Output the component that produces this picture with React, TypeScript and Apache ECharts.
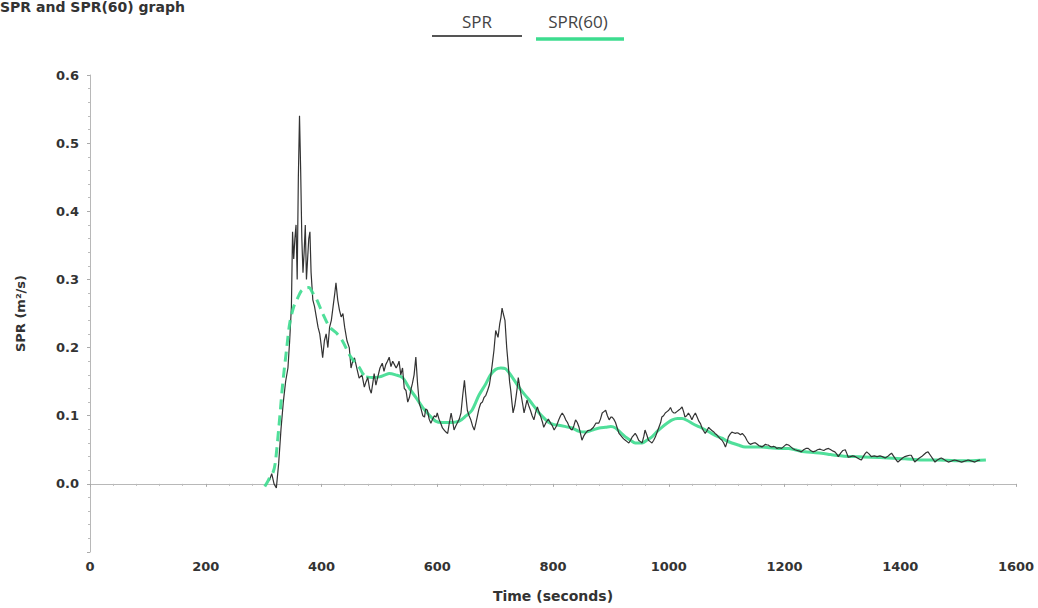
import React, { useEffect, useRef } from "react";
import * as echarts from "echarts";

// Time (s) / SPR (m²/s) pairs
const sprTime = [310,314,318,322,326,330,334,338,342,345,348,350,352,354,356,358,360,362,364,366,368,370,372,374,376,378,380,382,385,388,391,394,397,400,402,405,408,411,414,417,420,423,425,428,431,434,437,440,444,448,451,454,457,461,465,470,474,477,480,483,486,489,491,494,497,501,505,508,511,514,517,520,523,526,529,532,534,537,540,543,546,549,552,555,557,560,563,566,569,572,575,578,580,583,586,589,592,595,598,600,603,606,609,612,615,618,621,624,627,629,632,635,638,641,644,647,649,652,655,658,661,664,667,669,672,675,678,681,684,687,690,692,695,698,701,703,705,708,710,712,714,717,720,723,725,727,729,731,734,736,738,740,743,745,748,750,753,755,758,761,764,767,770,773,776,779,782,784,788,792,796,799,802,806,810,813,816,819,822,825,828,831,833,836,839,842,845,848,850,853,856,860,865,870,874,879,882,885,888,891,894,897,900,902,905,908,911,914,917,919,922,925,928,931,934,937,940,942,945,948,951,954,957,959,962,965,968,971,974,977,980,983,986,988,991,994,997,1000,1003,1006,1009,1011,1014,1017,1020,1023,1026,1028,1031,1034,1037,1040,1043,1046,1049,1052,1055,1057,1060,1063,1066,1069,1072,1075,1078,1080,1083,1086,1089,1092,1095,1098,1101,1103,1106,1109,1112,1115,1118,1121,1124,1127,1130,1132,1135,1138,1141,1144,1147,1150,1153,1156,1159,1161,1164,1167,1170,1172,1175,1178,1181,1184,1187,1190,1195,1199,1203,1207,1210,1214,1218,1222,1226,1229,1233,1237,1241,1245,1249,1253,1257,1261,1264,1268,1272,1276,1280,1284,1287,1290,1293,1297,1301,1305,1308,1310,1314,1318,1322,1326,1330,1333,1336,1339,1342,1346,1350,1355,1360,1365,1369,1374,1378,1382,1385,1389,1393,1396,1400,1404,1408,1412,1416,1419,1422,1425,1429,1433,1437,1441,1445,1448,1452,1456,1460,1464,1468,1471,1475,1479,1483,1487,1490,1494,1498,1502,1506,1510,1514,1517,1521,1525,1529,1533,1538];
const sprValue = [0.005,0.015,0.0,-0.006,0.03,0.08,0.12,0.15,0.17,0.21,0.26,0.37,0.33,0.36,0.38,0.30,0.45,0.54,0.46,0.36,0.31,0.34,0.38,0.30,0.33,0.36,0.37,0.31,0.27,0.26,0.245,0.23,0.22,0.2,0.185,0.21,0.22,0.2,0.23,0.24,0.26,0.28,0.295,0.27,0.255,0.245,0.25,0.23,0.21,0.2,0.17,0.18,0.185,0.17,0.155,0.16,0.142,0.15,0.156,0.14,0.133,0.15,0.162,0.145,0.156,0.17,0.177,0.165,0.175,0.18,0.186,0.172,0.18,0.175,0.17,0.175,0.18,0.16,0.17,0.14,0.137,0.12,0.127,0.14,0.147,0.16,0.186,0.147,0.118,0.11,0.1,0.098,0.11,0.108,0.095,0.089,0.095,0.1,0.098,0.104,0.095,0.089,0.082,0.079,0.076,0.074,0.09,0.104,0.09,0.079,0.085,0.09,0.095,0.104,0.13,0.152,0.133,0.108,0.1,0.094,0.085,0.079,0.09,0.098,0.11,0.118,0.12,0.127,0.13,0.137,0.145,0.156,0.175,0.196,0.225,0.22,0.215,0.235,0.244,0.258,0.25,0.24,0.2,0.171,0.15,0.137,0.12,0.104,0.115,0.127,0.14,0.156,0.14,0.13,0.115,0.104,0.115,0.123,0.115,0.108,0.1,0.094,0.105,0.113,0.105,0.098,0.09,0.083,0.09,0.095,0.089,0.085,0.079,0.085,0.094,0.1,0.104,0.1,0.094,0.09,0.084,0.08,0.079,0.085,0.094,0.09,0.083,0.072,0.064,0.07,0.074,0.078,0.079,0.083,0.089,0.089,0.095,0.104,0.106,0.108,0.1,0.094,0.098,0.098,0.095,0.09,0.082,0.074,0.071,0.069,0.066,0.064,0.062,0.06,0.064,0.069,0.072,0.074,0.07,0.064,0.062,0.06,0.07,0.079,0.072,0.064,0.062,0.06,0.064,0.069,0.076,0.083,0.09,0.098,0.1,0.104,0.106,0.108,0.112,0.106,0.104,0.104,0.106,0.108,0.11,0.113,0.105,0.098,0.1,0.104,0.1,0.094,0.1,0.104,0.098,0.092,0.088,0.083,0.078,0.074,0.078,0.083,0.08,0.078,0.076,0.074,0.072,0.069,0.066,0.064,0.06,0.054,0.062,0.069,0.073,0.076,0.075,0.074,0.075,0.074,0.072,0.074,0.071,0.069,0.064,0.06,0.058,0.059,0.06,0.06,0.058,0.056,0.055,0.054,0.056,0.058,0.057,0.057,0.055,0.054,0.055,0.054,0.052,0.053,0.052,0.055,0.058,0.057,0.055,0.052,0.05,0.049,0.048,0.047,0.05,0.052,0.052,0.049,0.047,0.048,0.05,0.051,0.05,0.049,0.051,0.052,0.05,0.048,0.047,0.044,0.04,0.045,0.049,0.05,0.044,0.039,0.04,0.041,0.04,0.038,0.036,0.035,0.04,0.044,0.047,0.044,0.04,0.041,0.04,0.041,0.04,0.038,0.04,0.043,0.045,0.04,0.035,0.032,0.035,0.038,0.04,0.041,0.042,0.042,0.037,0.032,0.035,0.038,0.04,0.043,0.046,0.047,0.042,0.037,0.032,0.035,0.037,0.038,0.036,0.034,0.032,0.033,0.034,0.035,0.034,0.033,0.032,0.033,0.034,0.035,0.034,0.033,0.032,0.034,0.035];

// SPR(60) smoothed curve: first (dashed) part and rest (solid)
const spr60TimeA = [302,308,312,316,320,326,333,340,345,352,359,365,372,378,385,392,402,414,425,436,448,458,466,471,477];
const spr60ValueA = [-0.004,0.005,0.012,0.016,0.03,0.08,0.147,0.2,0.235,0.26,0.273,0.283,0.287,0.288,0.28,0.27,0.25,0.23,0.222,0.21,0.19,0.178,0.17,0.162,0.157];
const spr60TimeB = [477,488,500,510,517,528,540,552,563,575,586,597,609,621,638,650,660,672,684,692,701,710,718,725,730,741,750,759,768,776,785,793,802,810,822,833,845,856,868,880,891,900,908,916,925,934,942,954,962,971,980,988,997,1006,1015,1023,1032,1040,1049,1057,1066,1074,1083,1092,1100,1109,1120,1132,1145,1161,1175,1190,1207,1218,1235,1250,1264,1280,1300,1322,1350,1379,1408,1437,1465,1494,1520,1548];
const spr60ValueB = [0.157,0.156,0.157,0.16,0.162,0.16,0.156,0.14,0.127,0.112,0.101,0.092,0.09,0.09,0.092,0.1,0.108,0.13,0.147,0.16,0.168,0.17,0.169,0.162,0.156,0.142,0.132,0.123,0.113,0.104,0.096,0.09,0.087,0.086,0.084,0.082,0.077,0.076,0.079,0.082,0.083,0.084,0.082,0.076,0.069,0.064,0.06,0.06,0.064,0.069,0.077,0.083,0.089,0.094,0.096,0.096,0.093,0.089,0.085,0.082,0.078,0.074,0.07,0.067,0.063,0.06,0.057,0.054,0.054,0.054,0.053,0.052,0.052,0.05,0.047,0.046,0.045,0.043,0.041,0.04,0.039,0.038,0.037,0.035,0.035,0.034,0.034,0.035];

const titleText = "SPR and SPR(60) graph";
const legendNames = ["SPR", "SPR(60)"];
const xAxisName = "Time (seconds)";
const yAxisName = "SPR (m²/s)";

const BLACK = "#333333";
const GREEN = "#3ddc8f";

const zip = (a: number[], b: number[]) => a.map((t, i) => [t, b[i]]);

export default function App() {
  const ref = useRef<HTMLDivElement>(null);
  useEffect(() => {
    if (!ref.current) return;
    const chart = echarts.init(ref.current, null, { renderer: "svg" });
    const boldFont = "DejaVu Sans";
    chart.setOption({
      animation: false,
      backgroundColor: "#ffffff",
      grid: { left: 90, right: 22, top: 75, bottom: 56 },
      xAxis: {
        type: "value",
        min: 0,
        max: 1600,
        interval: 200,
        name: xAxisName,
        nameLocation: "middle",
        nameGap: 37,
        nameTextStyle: { fontFamily: boldFont, fontWeight: "bold", fontSize: 14, color: "#333" },
        axisLine: { lineStyle: { color: "#b8b8b8", width: 1 } },
        axisTick: { show: true, length: 3, lineStyle: { color: "#aaa" } },
        minorTick: { show: true, splitNumber: 5, length: 2, lineStyle: { color: "#bbb" } },
        splitLine: { show: false },
        axisLabel: {
          fontFamily: boldFont,
          fontWeight: "bold",
          fontSize: 13,
          color: "#333",
          margin: 8,
          formatter: (v: number) => String(v),
        },
      },
      yAxis: {
        type: "value",
        min: -0.1,
        max: 0.6,
        interval: 0.1,
        name: yAxisName,
        nameLocation: "middle",
        nameGap: 63,
        nameTextStyle: { fontFamily: boldFont, fontWeight: "bold", fontSize: 13, color: "#333" },
        axisLine: { show: true, lineStyle: { color: "#b8b8b8", width: 1 } },
        axisTick: { show: true, length: 3, lineStyle: { color: "#aaa" } },
        minorTick: { show: true, splitNumber: 5, length: 2, lineStyle: { color: "#bbb" } },
        splitLine: { show: false },
        axisLabel: {
          fontFamily: boldFont,
          fontWeight: "bold",
          fontSize: 13,
          color: "#333",
          margin: 11,
          formatter: (v: number) => (v < -0.05 ? "" : v.toFixed(1)),
        },
      },
      graphic: [
        {
          type: "text",
          left: 0,
          top: 0,
          style: { text: titleText, fontFamily: boldFont, fontWeight: "bold", fontSize: 14, fill: "#333" },
        },
        {
          type: "text",
          x: 477,
          y: 21,
          style: { text: legendNames[0], fontFamily: "Open Sans", fontSize: 17, fill: "#444", align: "center", verticalAlign: "middle" },
        },
        {
          type: "line",
          shape: { x1: 432, y1: 36, x2: 522, y2: 36 },
          style: { stroke: "#555", lineWidth: 2 },
        },
        {
          type: "text",
          x: 578,
          y: 21,
          style: { text: legendNames[1], fontFamily: "Open Sans", fontSize: 17, fill: "#444", align: "center", verticalAlign: "middle" },
        },
        {
          type: "line",
          shape: { x1: 536, y1: 39, x2: 624, y2: 39 },
          style: { stroke: GREEN, lineWidth: 3.5 },
        },
      ],
      series: [
        {
          name: legendNames[0],
          type: "line",
          data: zip(sprTime, sprValue),
          showSymbol: false,
          lineStyle: { color: BLACK, width: 1.2 },
          z: 2,
        },
        {
          name: legendNames[1],
          type: "line",
          data: zip(spr60TimeA, spr60ValueA),
          showSymbol: false,
          smooth: 0.3,
          lineStyle: { color: GREEN, width: 3, type: [10, 6], opacity: 0.9 },
          z: 3,
        },
        {
          name: legendNames[1],
          type: "line",
          data: zip(spr60TimeB, spr60ValueB),
          showSymbol: false,
          smooth: 0.3,
          lineStyle: { color: GREEN, width: 3, opacity: 0.9 },
          z: 1,
        },
      ],
    });
    return () => chart.dispose();
  }, []);
  return <div ref={ref} style={{ position: "absolute", left: 0, top: 0, width: 1038, height: 608 }} />;
}
